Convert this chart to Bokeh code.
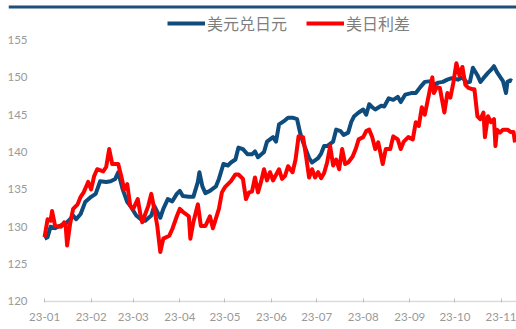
from bokeh.plotting import figure
from bokeh.models import Legend, LegendItem, FixedTicker, Range1d, BoxAnnotation
from bokeh.embed import file_html
from bokeh.resources import INLINE

# month starts (days since 2023-01-01) and their tick labels
month_days = [0, 31, 59, 90, 120, 151, 181, 212, 243, 273, 304]
month_labels = ["23-01", "23-02", "23-03", "23-04", "23-05", "23-06",
                "23-07", "23-08", "23-09", "23-10", "23-11"]
y_ticks = [120, 125, 130, 135, 140, 145, 150, 155]

series_names = ["美元兑日元", "美日利差"]

# USD/JPY
usdjpy_days = [0, 2, 4, 7, 11, 14, 17, 19, 21, 24, 27, 31, 34, 37, 41, 44, 47, 49, 52, 55,
               57, 61, 64, 67, 71, 73, 75, 77, 79, 82, 85, 88, 90, 92, 96, 99, 102, 103, 105, 107,
               110, 114, 116, 119, 122, 124, 127, 129, 132, 135, 138, 140, 142, 146, 148, 152, 154, 156, 159, 162,
               165, 168, 170, 172, 176, 178, 182, 184, 186, 188, 192, 194, 197, 199, 202, 204, 206, 209, 212, 214,
               216, 218, 220, 224, 226, 229, 232, 235, 237, 240, 244, 247, 250, 253, 257, 259, 262, 265, 268, 271,
               275, 278, 281, 283, 285, 288, 290, 292, 295, 297, 299, 301, 303, 305, 307, 308, 310, 311]
usdjpy = [128.4, 128.6, 130.0, 129.8, 130.2, 130.4, 131.0, 131.5, 131.0, 131.7, 133.3, 134.0, 134.4, 136.1, 136.0, 136.1, 136.4, 137.3, 135.0, 133.3,
          132.8, 131.5, 131.0, 130.8, 131.5, 132.8, 132.0, 131.2, 132.4, 133.7, 133.4, 134.4, 134.8, 134.1, 134.0, 134.0, 136.0, 137.3, 135.4, 134.5,
          134.8, 135.4, 136.4, 138.4, 138.2, 138.6, 139.0, 140.6, 140.4, 139.7, 139.7, 140.1, 139.3, 140.0, 141.4, 142.0, 141.4, 143.7, 144.1, 144.6,
          144.6, 144.4, 142.6, 141.3, 139.2, 138.6, 139.2, 139.8, 140.8, 140.8, 141.4, 143.0, 142.8, 142.3, 142.6, 144.0, 144.8, 145.3, 145.7, 145.0,
          146.4, 146.0, 145.7, 146.2, 146.1, 147.2, 147.0, 147.4, 146.7, 147.7, 147.9, 147.9, 148.7, 149.4, 149.5, 149.0, 149.3, 149.4, 149.7, 149.9,
          149.7, 150.0, 149.3, 149.4, 151.3, 150.3, 149.4, 149.9, 150.6, 151.0, 151.5, 150.7, 150.1, 149.5, 147.9, 149.4, 149.6, 149.5]

# US-Japan rate spread (scaled)
spread_days = [0, 2, 4, 5, 7, 11, 13, 14, 15, 17, 19, 22, 24, 26, 29, 31, 33, 35, 39, 41,
               43, 45, 49, 51, 53, 55, 57, 59, 62, 64, 65, 69, 71, 73, 75, 77, 79, 83, 85, 88,
               90, 92, 96, 97, 99, 102, 104, 107, 110, 112, 116, 118, 120, 124, 127, 129, 132, 134, 136, 138,
               140, 142, 144, 146, 148, 150, 152, 156, 158, 160, 162, 165, 167, 169, 172, 174, 176, 178, 180, 182,
               184, 186, 188, 190, 192, 194, 196, 198, 200, 202, 205, 207, 209, 212, 214, 216, 218, 220, 222, 225,
               227, 230, 232, 235, 237, 239, 242, 245, 247, 249, 251, 253, 255, 258, 259, 261, 263, 266, 268, 270,
               272, 274, 276, 278, 280, 282, 285, 286, 288, 290, 292, 293, 295, 297, 299, 300, 301, 303, 305, 308,
               310, 312, 313]
spread = [128.6, 131.0, 130.8, 132.1, 130.1, 130.0, 130.6, 130.2, 127.5, 130.4, 132.4, 133.0, 134.0, 134.6, 136.0, 135.0, 136.8, 137.7, 137.4, 138.0,
          140.4, 138.4, 138.4, 136.8, 135.0, 135.7, 132.8, 132.4, 133.7, 131.4, 130.6, 132.8, 134.4, 132.4, 130.1, 126.6, 128.4, 128.8, 129.7, 131.4,
          132.4, 132.0, 131.4, 128.4, 130.6, 133.0, 130.1, 130.1, 131.4, 129.8, 132.4, 134.6, 135.3, 136.1, 137.0, 137.0, 136.4, 133.7, 134.6, 134.7,
          136.6, 134.6, 136.0, 137.7, 136.2, 137.3, 136.2, 137.7, 136.4, 136.8, 138.1, 137.3, 139.0, 142.1, 142.0, 139.4, 136.6, 137.7, 136.6, 137.3,
          136.5, 137.2, 138.6, 140.8, 138.2, 139.0, 137.7, 140.4, 138.4, 138.6, 139.4, 140.4, 141.7, 142.0, 142.8, 143.0, 142.0, 140.4, 141.3, 138.4,
          140.4, 140.4, 142.1, 141.7, 140.4, 141.4, 142.0, 141.7, 144.0, 143.5, 146.0, 145.0, 147.0, 150.0, 147.9, 148.7, 148.6, 145.3, 147.9, 147.3,
          149.3, 151.9, 150.3, 151.4, 149.0, 148.6, 148.4, 148.4, 144.8, 144.4, 145.3, 142.0, 144.8, 144.0, 144.4, 140.8, 143.0, 142.6, 143.0, 143.0,
          142.7, 142.7, 141.3]

BLUE = "#0F4C7E"
RED = "#FF0000"
LABEL_GRAY = "#999999"

X_START, X_END = -24.0, 314.0
Y_START, Y_END = 119.85, 160.3

p = figure(width=516, height=329, output_backend="svg", toolbar_location=None,
           x_range=Range1d(X_START, X_END), y_range=Range1d(Y_START, Y_END),
           min_border_left=8, min_border_right=0, min_border_top=0, min_border_bottom=27)
p.background_fill_color = "white"
p.border_fill_color = "white"
p.outline_line_color = None
p.xgrid.visible = False
p.ygrid.visible = False

# header rule across the top
p.add_layout(BoxAnnotation(top=5, bottom=8, top_units="canvas", bottom_units="canvas",
                           fill_color="#1F4E79", fill_alpha=1, line_alpha=0))

# category-axis baseline from first month to the end
p.segment(x0=[month_days[0]], y0=[y_ticks[0]], x1=[X_END], y1=[y_ticks[0]],
          line_color="#D9D9D9", line_width=1.5)

r_blue = p.line(usdjpy_days, usdjpy, line_color=BLUE, line_width=4, line_join="round")
r_red = p.line(spread_days, spread, line_color=RED, line_width=4, line_join="round")

# x axis
xa = p.xaxis[0]
xa.ticker = FixedTicker(ticks=month_days)
xa.major_label_overrides = {d: l for d, l in zip(month_days, month_labels)}
xa.axis_line_color = None
xa.major_tick_line_color = "#BFBFBF"
xa.major_tick_in = 4
xa.major_tick_out = 0
xa.minor_tick_line_color = None
xa.major_label_text_color = LABEL_GRAY
xa.major_label_text_font = "Lato"
xa.major_label_text_font_size = "11.5px"
xa.major_label_standoff = 10

# y axis (labels sit left of the series area)
ya = p.yaxis[0]
ya.ticker = FixedTicker(ticks=y_ticks)
ya.axis_line_color = None
ya.major_tick_line_color = None
ya.minor_tick_line_color = None
ya.major_label_text_color = LABEL_GRAY
ya.major_label_text_font = "Lato"
ya.major_label_text_font_size = "11.5px"
ya.major_label_standoff = -25

legend = Legend(items=[LegendItem(label=series_names[0], renderers=[r_blue]),
                       LegendItem(label=series_names[1], renderers=[r_red])],
                orientation="horizontal", location=(159, 267),
                label_text_font="Noto Sans CJK SC", label_text_font_size="16px",
                label_text_color="#7F7F7F", glyph_width=38, glyph_height=20,
                label_standoff=2, spacing=19, padding=0, margin=0,
                border_line_color=None, background_fill_alpha=0)
p.add_layout(legend, "center")

open("out.html", "w").write(file_html(p, INLINE))
